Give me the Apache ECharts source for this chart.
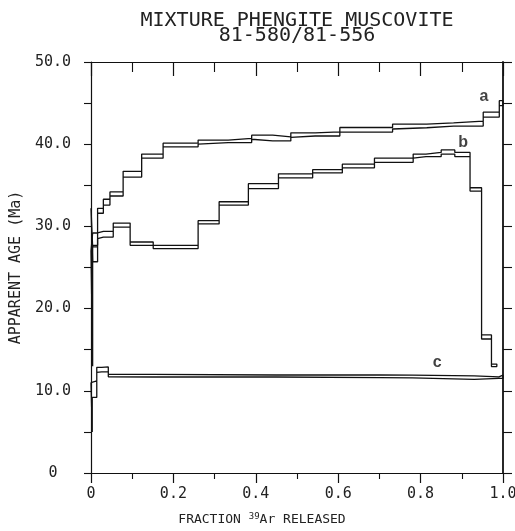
<!DOCTYPE html>
<html>
<head>
<meta charset="utf-8">
<script src="https://cdn.jsdelivr.net/npm/echarts@6/dist/echarts.min.js"></script>
<style>
html,body{margin:0;padding:0;background:#fff;}
#chart{width:515px;height:531px;}
</style>
</head>
<body>
<div id="chart"></div>
<script>
// ---- data ----
// spectrum a (step edges as fraction of 39Ar released, apparent age, half-width of error)
var aEdges = [0, 0.004, 0.016, 0.030, 0.046, 0.078, 0.123, 0.175, 0.260, 0.333, 0.390, 0.441, 0.485, 0.544, 0.604, 0.732, 0.815, 0.880, 0.952, 0.991, 1.0];
var aAges  = [29.0, 26.6, 31.9, 32.95, 33.95, 36.35, 38.55, 39.9, 40.25, 40.45, 40.85, 40.65, 41.1, 41.25, 41.75, 42.15, 42.3, 42.5, 43.6, 45.0];
var aErr   = [3.2, 0.9, 0.3, 0.35, 0.25, 0.35, 0.25, 0.22, 0.25, 0.25, 0.25, 0.25, 0.28, 0.25, 0.28, 0.3, 0.3, 0.3, 0.3, 0.3];

// spectrum b
var bEdges = [0, 0.004, 0.016, 0.030, 0.054, 0.095, 0.151, 0.260, 0.311, 0.382, 0.455, 0.538, 0.610, 0.688, 0.782, 0.813, 0.850, 0.883, 0.920, 0.948, 0.972, 0.985];
var bAges  = [20.0, 28.45, 28.95, 29.05, 30.15, 27.9, 27.5, 30.5, 32.8, 34.9, 36.15, 36.7, 37.35, 38.05, 38.55, 38.75, 39.05, 38.75, 34.5, 16.55, 13.1];
var bErr   = [7.0, 0.75, 0.45, 0.35, 0.25, 0.2, 0.2, 0.2, 0.2, 0.3, 0.25, 0.2, 0.22, 0.25, 0.25, 0.25, 0.25, 0.25, 0.2, 0.25, 0.15];

// spectrum c
var cEdges = [0, 0.003, 0.014, 0.026, 0.042, 0.15, 0.45, 0.70, 0.78, 0.93, 0.99, 1.0];
var cAges  = [8.0, 10.2, 12.55, 12.6, 11.85, 11.8, 11.8, 11.75, 11.7, 11.55, 11.7];
var cErr   = [3.0, 1.0, 0.3, 0.3, 0.15, 0.12, 0.12, 0.15, 0.12, 0.15, 0.2];

// spectrum labels [fraction, age, text]
var specLabels = [[0.954, 45.8, 'a'], [0.903, 40.2, 'b'], [0.840, 13.4, 'c']];

// axis ticks
var xTicks = [0, 0.2, 0.4, 0.6, 0.8, 1.0];
var yTicks = [0, 10, 20, 30, 40, 50];

// build outline (upper step line, right edge, lower step line back, left edge)
function outline(edges, ages, err) {
  var pts = [];
  var n = ages.length;
  for (var i = 0; i < n; i++) {
    pts.push([edges[i], ages[i] + err[i]]);
    pts.push([edges[i + 1], ages[i] + err[i]]);
  }
  for (var j = n - 1; j >= 0; j--) {
    pts.push([edges[j + 1], ages[j] - err[j]]);
    pts.push([edges[j], ages[j] - err[j]]);
  }
  pts.push([edges[0], ages[0] + err[0]]);
  return pts;
}

var font = '"DejaVu Sans Mono", monospace';
var lineCol = '#111';
var txtCol = '#222';

function specSeries(name, edges, ages, err) {
  return {
    name: name, type: 'line', data: outline(edges, ages, err),
    showSymbol: false, symbol: 'none', silent: true,
    lineStyle: {color: lineCol, width: 1.3},
    xAxisIndex: 0, yAxisIndex: 0, z: 5
  };
}

function fmt(ticks) {
  return function (v) {
    for (var i = 0; i < ticks.length; i++) {
      if (Math.abs(v - ticks[i]) < 1e-9) return ticks[i] === 0 ? '0' : ticks[i].toFixed(1);
    }
    return '';
  };
}

var chart = echarts.init(document.getElementById('chart'), null, {renderer: 'canvas'});
var option = {
  animation: false,
  backgroundColor: '#fff',
  title: {
    text: 'MIXTURE PHENGITE MUSCOVITE\n81-580/81-556',
    left: 292, top: 8, textAlign: 'center',
    textStyle: {fontFamily: font, fontSize: 20, fontWeight: 'normal', color: txtCol, lineHeight: 15}
  },
  grid: {left: 91, right: 12, top: 62, bottom: 58, containLabel: false, outerBoundsMode: 'none'},
  xAxis: [{
    type: 'value', min: 0, max: 1, interval: 0.2, position: 'bottom',
    axisLine: {show: true, onZero: false, lineStyle: {color: lineCol, width: 1.2}},
    axisTick: {show: true, inside: false, length: 10, lineStyle: {color: lineCol, width: 1.2}},
    minorTick: {show: true, splitNumber: 2, length: 6, lineStyle: {color: lineCol, width: 1.1}},
    splitLine: {show: false},
    axisLabel: {margin: 14, fontFamily: font, fontSize: 15, color: txtCol, formatter: fmt(xTicks)},
    name: '{t|FRACTION }{s|39}{t|Ar RELEASED}',
    nameLocation: 'middle', nameGap: 39,
    nameTextStyle: {
      padding: [0, 70, 0, 0],
      rich: {
        t: {fontFamily: font, fontSize: 13, color: txtCol},
        s: {fontFamily: font, fontSize: 9, color: txtCol, verticalAlign: 'top', padding: [0, 0, 7, 0]}
      }
    }
  }, {
    type: 'value', min: 0, max: 1, interval: 0.2, position: 'top',
    axisLine: {show: true, onZero: false, lineStyle: {color: lineCol, width: 1.1}},
    axisTick: {show: true, inside: true, length: 14, lineStyle: {color: lineCol, width: 1.2}},
    minorTick: {show: true, splitNumber: 2, length: 10, lineStyle: {color: lineCol, width: 1.1}},
    splitLine: {show: false},
    axisLabel: {show: false}
  }],
  yAxis: [{
    type: 'value', min: 0, max: 50, interval: 10, position: 'left',
    axisLine: {show: true, onZero: false, lineStyle: {color: lineCol, width: 1.2}},
    axisTick: {show: true, inside: false, length: 7, lineStyle: {color: lineCol, width: 1.1}},
    minorTick: {show: true, splitNumber: 2, length: 7, lineStyle: {color: lineCol, width: 1.1}},
    splitLine: {show: false},
    axisLabel: {margin: 38, align: 'center', fontFamily: font, fontSize: 15, color: txtCol, formatter: fmt(yTicks)},
    name: 'APPARENT AGE (Ma)',
    nameLocation: 'middle', nameRotate: 90, nameGap: 63,
    nameTextStyle: {fontFamily: font, fontSize: 15, color: txtCol}
  }, {
    type: 'value', min: 0, max: 50, interval: 10, position: 'right',
    axisLine: {show: true, onZero: false, lineStyle: {color: lineCol, width: 1.8}},
    axisTick: {show: true, inside: false, length: 9, lineStyle: {color: lineCol, width: 1.1}},
    minorTick: {show: true, splitNumber: 2, length: 9, lineStyle: {color: lineCol, width: 1.1}},
    splitLine: {show: false},
    axisLabel: {show: false}
  }],
  series: [
    specSeries('a', aEdges, aAges, aErr),
    specSeries('b', bEdges, bAges, bErr),
    specSeries('c', cEdges, cAges, cErr),
    {
      type: 'scatter', symbolSize: 0, silent: true, z: 6,
      data: specLabels.map(function (d) { return {value: [d[0], d[1]], name: d[2]}; }),
      label: {
        show: true, position: 'inside', formatter: '{b}',
        fontFamily: '"Liberation Sans", Arial, sans-serif', fontWeight: 'bold', fontSize: 16, color: '#111'
      }
    }
  ]
};
chart.setOption(option);
</script>
</body>
</html>
